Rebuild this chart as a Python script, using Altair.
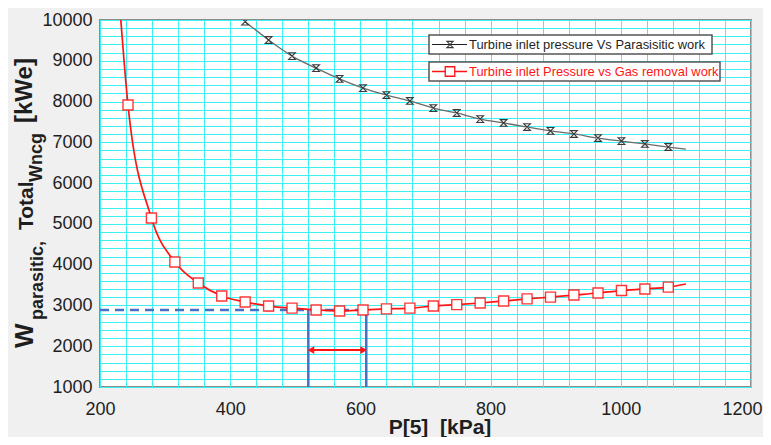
import altair as alt
import pandas as pd

# ---------------- data ----------------
pressure_kpa = [243, 279, 315, 351, 387, 423, 459, 495, 532, 568, 604, 640,
                676, 712, 748, 784, 820, 856, 892, 928, 965, 1001, 1037, 1073]
gas_removal_kwe = [7915, 5145, 4065, 3550, 3230, 3085, 2985, 2935, 2890, 2865, 2890, 2915,
                   2935, 2985, 3020, 3060, 3110, 3160, 3205, 3255, 3305, 3365, 3405, 3450]
parasitic_pressure_kpa = [423, 459, 495, 532, 568, 604, 640, 676, 712, 748, 784, 820,
                          856, 892, 928, 965, 1001, 1037, 1073]
parasitic_kwe = [9960, 9510, 9115, 8820, 8555, 8330, 8160, 8015, 7840, 7720, 7570, 7475,
                 7375, 7280, 7205, 7105, 7030, 6960, 6885]
gas_line_start_kpa = [232]
gas_line_start_kwe = [10000]
line_end_kpa = [1100]
gas_removal_end_kwe = [3525]
parasitic_end_kwe = [6835]

optimum_line_kpa = [200, 609]
optimum_kwe = 2890
range_kpa = [520, 609]
arrow_kpa = [524, 605]
arrow_kwe = 1905

x_grid = list(range(200, 1201, 40))
y_grid = list(range(1000, 10001, 200))

# ---------------- tables ----------------
red_pts = pd.DataFrame({"P": pressure_kpa, "W": gas_removal_kwe})
red_line = pd.DataFrame({"P": gas_line_start_kpa + pressure_kpa + line_end_kpa,
                         "W": gas_line_start_kwe + gas_removal_kwe + gas_removal_end_kwe})
blk_pts = pd.DataFrame({"P": parasitic_pressure_kpa, "W": parasitic_kwe})
blk_line = pd.DataFrame({"P": parasitic_pressure_kpa + line_end_kpa,
                         "W": parasitic_kwe + parasitic_end_kwe})
dash_df = pd.DataFrame({"P": optimum_line_kpa, "W": [optimum_kwe] * 2})
vert_df = pd.DataFrame({"P": range_kpa, "W": [1000] * 2, "W2": [optimum_kwe] * 2})
arrow_df = pd.DataFrame({"P": [arrow_kpa[0]], "P2": [arrow_kpa[1]], "W": [arrow_kwe]})
head_l = pd.DataFrame({"P": [arrow_kpa[0]], "W": [arrow_kwe]})
head_r = pd.DataFrame({"P": [arrow_kpa[1]], "W": [arrow_kwe]})
one = pd.DataFrame({"k": [0]})

FONT = "Liberation Sans"
RED = "#FF1414"
BLUE = "#4472C4"
CYAN = "#3DF0F2"

xscale = alt.Scale(domain=[200, 1200], nice=False, zero=False)
yscale = alt.Scale(domain=[1000, 10000], nice=False, zero=False)
xaxis = alt.Axis(values=x_grid, title=None, format="d",
                 labelExpr="datum.value % 200 == 0 ? datum.label : ''",
                 labelAlign={"condition": {"test": "datum.value >= 1200", "value": "right"},
                             "value": "center"},
                 labelOffset={"condition": {"test": "datum.value >= 1200", "value": 11},
                              "value": 0},
                 labelPadding=13, labelFontSize=18, labelFlush=False)
yaxis = alt.Axis(values=y_grid, title=None, format="d",
                 labelExpr="datum.value % 1000 == 0 ? datum.label : ''",
                 labelPadding=8, labelFontSize=18, labelFlush=False)


def X(f="P"):
    return alt.X(f"{f}:Q", scale=xscale, axis=xaxis)


def Y(f="W"):
    return alt.Y(f"{f}:Q", scale=yscale, axis=yaxis)


layers = []
# blue optimum marks
layers.append(alt.Chart(dash_df).mark_line(color=BLUE, strokeWidth=2.5, strokeDash=[9, 6], clip=True)
              .encode(x=X(), y=Y()))
layers.append(alt.Chart(vert_df).mark_rule(color=BLUE, strokeWidth=2.5)
              .encode(x=X(), y=Y(), y2="W2:Q"))
# red arrow
layers.append(alt.Chart(arrow_df).mark_rule(color=RED, strokeWidth=2)
              .encode(x=X(), x2="P2:Q", y=Y()))
layers.append(alt.Chart(head_l).mark_point(shape="triangle-left", filled=True, color=RED, size=60, opacity=1)
              .encode(x=X(), y=Y()))
layers.append(alt.Chart(head_r).mark_point(shape="triangle-right", filled=True, color=RED, size=60, opacity=1)
              .encode(x=X(), y=Y()))
# series
layers.append(alt.Chart(blk_line).mark_line(color="#6A6A6A", strokeWidth=1.3, clip=True, interpolate="monotone")
              .encode(x=X(), y=Y()))
HOURGLASS = "M-1,-1L1,-1L-1,1L1,1Z"
layers.append(alt.Chart(blk_pts).mark_point(shape=HOURGLASS, filled=False, color="#3A3A3A",
                                            strokeWidth=1.1, size=45, opacity=1, clip=True)
              .encode(x=X(), y=Y()))
layers.append(alt.Chart(red_line).mark_line(color=RED, strokeWidth=1.7, clip=True, interpolate="monotone")
              .encode(x=X(), y=Y()))
layers.append(alt.Chart(red_pts).mark_point(shape="square", filled=True, fill="white", stroke=RED,
                                            strokeWidth=1.4, size=100, opacity=1, strokeOpacity=0.85, clip=True)
              .encode(x=X(), y=Y()))

# legend boxes (plot-area pixel positions)
def legend_box(x0, x1, y0, y1, text, color, marker):
    ym = (y0 + y1) / 2
    parts = [
        alt.Chart(one).mark_rect(fill="white", stroke="#555555", strokeWidth=1.5)
        .encode(x=alt.value(x0), x2=alt.value(x1), y=alt.value(y0), y2=alt.value(y1)),
        alt.Chart(one).mark_rule(color=color, strokeWidth=1.5 if color == RED else 1.2)
        .encode(x=alt.value(x0 + 3), x2=alt.value(x0 + 38), y=alt.value(ym)),
        marker.encode(x=alt.value(x0 + 21), y=alt.value(ym)),
        alt.Chart(one).mark_text(text=text, color=color, font=FONT, fontSize=12.9,
                                 align="left", baseline="middle")
        .encode(x=alt.value(x0 + 40), y=alt.value(ym + 0.5)),
    ]
    return parts

layers += legend_box(329, 612, 15, 34, "Turbine inlet pressure Vs Parasisitic work", "#1E1E1E",
                     alt.Chart(one).mark_point(shape=HOURGLASS, filled=False, color="#3A3A3A",
                                               strokeWidth=1.1, size=40, opacity=1))
layers += legend_box(329, 620, 42, 61, "Turbine inlet Pressure vs Gas removal work", RED,
                     alt.Chart(one).mark_point(shape="square", filled=True, fill="white", stroke=RED,
                                               strokeWidth=1.3, size=90, opacity=1))

# y-axis title with subscripts, drawn as rotated text pieces
def vtext(t, x, y, size):
    return (alt.Chart(one).mark_text(text=t, angle=270, align="left", baseline="alphabetic",
                                     font=FONT, fontWeight="bold", fontSize=size, color="#1E1E1E")
            .encode(x=alt.value(x), y=alt.value(y)))

layers += [
    vtext("W", -67, 328, 26),
    vtext("parasitic,", -57, 300, 18),
    vtext("Total", -67, 210, 21),
    vtext("Wncg", -58, 162, 18),
    vtext("[kWe]", -68, 103, 24),
]
# x-axis title
layers.append(alt.Chart(one).mark_text(text="P[5]\u00a0\u00a0[kPa]", align="center", baseline="alphabetic",
                                       font=FONT, fontWeight="bold", fontSize=21, color="#1E1E1E")
              .encode(x=alt.value(340), y=alt.value(414)))

chart = (alt.layer(*layers)
         .properties(width=651, height=367,
                     autosize=alt.AutoSizeParams(type="none"),
                     padding={"left": 92, "top": 12, "right": 12, "bottom": 50},
                     background="#F0F0F0")
         .configure_view(stroke="#8C8C8C", strokeWidth=2, fill="white")
         .configure_axis(domain=False, ticks=False, gridColor=CYAN, gridWidth=1, gridOpacity=1,
                         labelFont=FONT, labelColor="#1E1E1E", labelOverlap=False))

chart.save("out.html", embed_options={"renderer": "svg", "actions": False})
